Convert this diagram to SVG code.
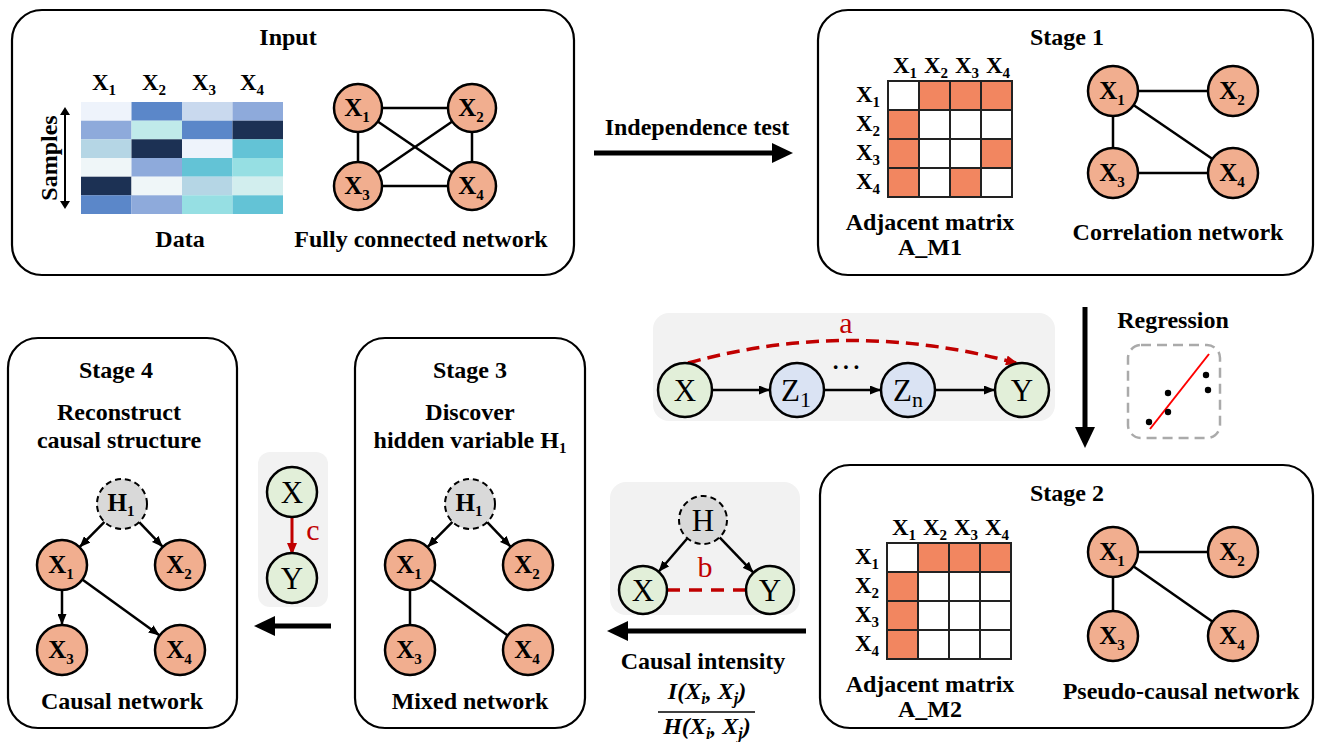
<svg xmlns="http://www.w3.org/2000/svg" width="1325" height="742" viewBox="0 0 1325 742">
  <style>
    .panel { fill: #ffffff; stroke: #000000; stroke-width: 2.2; }
    .inset { fill: #f2f2f2; stroke: none; }
    .title { font-family: "Liberation Serif", "Times New Roman", serif; font-weight: bold; font-size: 24px; fill: #000; text-anchor: middle; }
    .lbl { font-family: "Liberation Serif", "Times New Roman", serif; font-weight: bold; font-size: 24px; fill: #000; text-anchor: middle; }
    .hdr { font-family: "Liberation Serif", "Times New Roman", serif; font-weight: bold; font-size: 23px; fill: #000; text-anchor: middle; }
    .nd { font-family: "Liberation Serif", "Times New Roman", serif; font-weight: bold; font-size: 25px; fill: #000; text-anchor: middle; }
    .sub { font-size: 15px; }
    .node { fill: #f1ae8f; stroke: #000; stroke-width: 2.5; }
    .hid { fill: #d9d9d9; stroke: #000; stroke-width: 2; stroke-dasharray: 6,4; }
    .grn { fill: #e2efd9; stroke: #000; stroke-width: 2.5; }
    .blu { fill: #dae3f3; stroke: #000; stroke-width: 2.5; }
    .edge { stroke: #000; stroke-width: 2.5; fill: none; }
    .arr { stroke: #000; stroke-width: 2.5; fill: none; marker-end: url(#ah); }
    .big { stroke: #000; stroke-width: 5; fill: none; }
    .math { font-family: "Liberation Serif", "DejaVu Serif", serif; font-size: 31px; fill: #000; text-anchor: middle; }
    .red { font-family: "Liberation Serif", "DejaVu Serif", serif; font-size: 30px; fill: #c00000; text-anchor: middle; }
    .frac { font-family: "Liberation Serif", "Times New Roman", serif; font-weight: bold; font-style: italic; font-size: 24px; fill: #000; text-anchor: middle; }
    .cell { stroke: #222; stroke-width: 2; }
    .o { fill: #f28660; }
    .w { fill: #ffffff; }
  </style>
  <defs>
    <marker id="ah" markerUnits="userSpaceOnUse" markerWidth="11" markerHeight="9" refX="11" refY="4.5" orient="auto">
      <path d="M0,0 L11,4.5 L0,9 z" fill="#000"/>
    </marker>
    <marker id="ahr" markerUnits="userSpaceOnUse" markerWidth="12" markerHeight="10" refX="10" refY="5" orient="auto">
      <path d="M0,0 L12,5 L0,10 z" fill="#c00000"/>
    </marker>
  </defs>

  <rect width="1325" height="742" fill="#ffffff"/>

  <g id="input-panel">
    <rect class="panel" x="12" y="10" width="562" height="265" rx="30"/>
    <text class="title" x="288" y="45">Input</text>
    <g id="data-grid">
      <rect x="81" y="102" width="50.5" height="18.7" fill="#eef3fb"/>
      <rect x="131.5" y="102" width="50.5" height="18.7" fill="#5b87c9"/>
      <rect x="182" y="102" width="50.5" height="18.7" fill="#c9d9ee"/>
      <rect x="232.5" y="102" width="50.5" height="18.7" fill="#8eaadb"/>
      <rect x="81" y="120.7" width="50.5" height="18.7" fill="#8eaadb"/>
      <rect x="131.5" y="120.7" width="50.5" height="18.7" fill="#c0eaea"/>
      <rect x="182" y="120.7" width="50.5" height="18.7" fill="#5b87c9"/>
      <rect x="232.5" y="120.7" width="50.5" height="18.7" fill="#1c3154"/>
      <rect x="81" y="139.3" width="50.5" height="18.7" fill="#b5d6e5"/>
      <rect x="131.5" y="139.3" width="50.5" height="18.7" fill="#1c3154"/>
      <rect x="182" y="139.3" width="50.5" height="18.7" fill="#eef3fb"/>
      <rect x="232.5" y="139.3" width="50.5" height="18.7" fill="#63c3d6"/>
      <rect x="81" y="158" width="50.5" height="18.7" fill="#eff6f8"/>
      <rect x="131.5" y="158" width="50.5" height="18.7" fill="#8eaadb"/>
      <rect x="182" y="158" width="50.5" height="18.7" fill="#63c3d6"/>
      <rect x="232.5" y="158" width="50.5" height="18.7" fill="#96dfe3"/>
      <rect x="81" y="176.7" width="50.5" height="18.7" fill="#1c3154"/>
      <rect x="131.5" y="176.7" width="50.5" height="18.7" fill="#eff6f8"/>
      <rect x="182" y="176.7" width="50.5" height="18.7" fill="#b5d6e5"/>
      <rect x="232.5" y="176.7" width="50.5" height="18.7" fill="#d2eeee"/>
      <rect x="81" y="195.3" width="50.5" height="18.7" fill="#5b87c9"/>
      <rect x="131.5" y="195.3" width="50.5" height="18.7" fill="#8eaadb"/>
      <rect x="182" y="195.3" width="50.5" height="18.7" fill="#96dfe3"/>
      <rect x="232.5" y="195.3" width="50.5" height="18.7" fill="#63c3d6"/>
    </g>
    <text class="hdr" x="104" y="90">X<tspan class="sub" dy="5">1</tspan></text>
    <text class="hdr" x="154" y="90">X<tspan class="sub" dy="5">2</tspan></text>
    <text class="hdr" x="204" y="90">X<tspan class="sub" dy="5">3</tspan></text>
    <text class="hdr" x="252" y="90">X<tspan class="sub" dy="5">4</tspan></text>
    <line x1="65" y1="114" x2="65" y2="202" stroke="#000" stroke-width="2"/>
    <path d="M60,115 L65,107 L70,115 z M60,201 L65,209 L70,201 z" fill="#000"/>
    <text class="title" x="0" y="0" font-size="22" transform="translate(57,158) rotate(-90)">Samples</text>
    <text class="lbl" x="180" y="247">Data</text>
    <line class="edge" x1="358" y1="108" x2="472" y2="108"/>
    <line class="edge" x1="358" y1="108" x2="358" y2="186"/>
    <line class="edge" x1="472" y1="108" x2="472" y2="186"/>
    <line class="edge" x1="358" y1="186" x2="472" y2="186"/>
    <line class="edge" x1="358" y1="108" x2="472" y2="186"/>
    <line class="edge" x1="472" y1="108" x2="358" y2="186"/>
    <circle class="node" cx="358" cy="108" r="24"/>
    <circle class="node" cx="472" cy="108" r="24"/>
    <circle class="node" cx="358" cy="186" r="24"/>
    <circle class="node" cx="472" cy="186" r="24"/>
    <text class="nd" x="357" y="116">X<tspan class="sub" dy="6">1</tspan></text>
    <text class="nd" x="471" y="116">X<tspan class="sub" dy="6">2</tspan></text>
    <text class="nd" x="357" y="194">X<tspan class="sub" dy="6">3</tspan></text>
    <text class="nd" x="471" y="194">X<tspan class="sub" dy="6">4</tspan></text>
    <text class="lbl" x="421" y="247">Fully connected network</text>
  </g>

  <g id="stage1-panel">
    <rect class="panel" x="818" y="10" width="495" height="265" rx="30"/>
    <text class="title" x="1067" y="45">Stage 1</text>
    <g id="matrix1">
      <rect class="cell w" x="888" y="81" width="31" height="29"/>
      <rect class="cell o" x="919" y="81" width="31" height="29"/>
      <rect class="cell o" x="950" y="81" width="31" height="29"/>
      <rect class="cell o" x="981" y="81" width="31" height="29"/>
      <rect class="cell o" x="888" y="110" width="31" height="29"/>
      <rect class="cell w" x="919" y="110" width="31" height="29"/>
      <rect class="cell w" x="950" y="110" width="31" height="29"/>
      <rect class="cell w" x="981" y="110" width="31" height="29"/>
      <rect class="cell o" x="888" y="139" width="31" height="29"/>
      <rect class="cell w" x="919" y="139" width="31" height="29"/>
      <rect class="cell w" x="950" y="139" width="31" height="29"/>
      <rect class="cell o" x="981" y="139" width="31" height="29"/>
      <rect class="cell o" x="888" y="168" width="31" height="29"/>
      <rect class="cell w" x="919" y="168" width="31" height="29"/>
      <rect class="cell o" x="950" y="168" width="31" height="29"/>
      <rect class="cell w" x="981" y="168" width="31" height="29"/>
    </g>
    <text class="hdr" x="905" y="73">X<tspan class="sub" dy="5">1</tspan></text>
    <text class="hdr" x="936" y="73">X<tspan class="sub" dy="5">2</tspan></text>
    <text class="hdr" x="967" y="73">X<tspan class="sub" dy="5">3</tspan></text>
    <text class="hdr" x="998" y="73">X<tspan class="sub" dy="5">4</tspan></text>
    <text class="hdr" x="868" y="102">X<tspan class="sub" dy="5">1</tspan></text>
    <text class="hdr" x="868" y="131">X<tspan class="sub" dy="5">2</tspan></text>
    <text class="hdr" x="868" y="160">X<tspan class="sub" dy="5">3</tspan></text>
    <text class="hdr" x="868" y="189">X<tspan class="sub" dy="5">4</tspan></text>
    <text class="lbl" x="930" y="230">Adjacent matrix</text>
    <text class="lbl" x="930" y="255">A_M1</text>
    <line class="edge" x1="1113" y1="91" x2="1233" y2="91"/>
    <line class="edge" x1="1113" y1="91" x2="1113" y2="173"/>
    <line class="edge" x1="1113" y1="91" x2="1233" y2="173"/>
    <line class="edge" x1="1113" y1="173" x2="1233" y2="173"/>
    <circle class="node" cx="1113" cy="91" r="25"/>
    <circle class="node" cx="1233" cy="91" r="25"/>
    <circle class="node" cx="1113" cy="173" r="25"/>
    <circle class="node" cx="1233" cy="173" r="25"/>
    <text class="nd" x="1112" y="99">X<tspan class="sub" dy="6">1</tspan></text>
    <text class="nd" x="1232" y="99">X<tspan class="sub" dy="6">2</tspan></text>
    <text class="nd" x="1112" y="181">X<tspan class="sub" dy="6">3</tspan></text>
    <text class="nd" x="1232" y="181">X<tspan class="sub" dy="6">4</tspan></text>
    <text class="lbl" x="1178" y="240">Correlation network</text>
  </g>

  <g id="stage2-panel">
    <rect class="panel" x="820" y="465" width="493" height="263" rx="30"/>
    <text class="title" x="1067" y="501">Stage 2</text>
    <g id="matrix2">
      <rect class="cell w" x="887" y="543" width="31" height="29"/>
      <rect class="cell o" x="918" y="543" width="31" height="29"/>
      <rect class="cell o" x="949" y="543" width="31" height="29"/>
      <rect class="cell o" x="980" y="543" width="31" height="29"/>
      <rect class="cell o" x="887" y="572" width="31" height="29"/>
      <rect class="cell w" x="918" y="572" width="31" height="29"/>
      <rect class="cell w" x="949" y="572" width="31" height="29"/>
      <rect class="cell w" x="980" y="572" width="31" height="29"/>
      <rect class="cell o" x="887" y="601" width="31" height="29"/>
      <rect class="cell w" x="918" y="601" width="31" height="29"/>
      <rect class="cell w" x="949" y="601" width="31" height="29"/>
      <rect class="cell w" x="980" y="601" width="31" height="29"/>
      <rect class="cell o" x="887" y="630" width="31" height="29"/>
      <rect class="cell w" x="918" y="630" width="31" height="29"/>
      <rect class="cell w" x="949" y="630" width="31" height="29"/>
      <rect class="cell w" x="980" y="630" width="31" height="29"/>
    </g>
    <text class="hdr" x="904" y="535">X<tspan class="sub" dy="5">1</tspan></text>
    <text class="hdr" x="935" y="535">X<tspan class="sub" dy="5">2</tspan></text>
    <text class="hdr" x="966" y="535">X<tspan class="sub" dy="5">3</tspan></text>
    <text class="hdr" x="997" y="535">X<tspan class="sub" dy="5">4</tspan></text>
    <text class="hdr" x="867" y="564">X<tspan class="sub" dy="5">1</tspan></text>
    <text class="hdr" x="867" y="593">X<tspan class="sub" dy="5">2</tspan></text>
    <text class="hdr" x="867" y="622">X<tspan class="sub" dy="5">3</tspan></text>
    <text class="hdr" x="867" y="651">X<tspan class="sub" dy="5">4</tspan></text>
    <text class="lbl" x="930" y="692">Adjacent matrix</text>
    <text class="lbl" x="930" y="717">A_M2</text>
    <line class="edge" x1="1113" y1="552" x2="1233" y2="552"/>
    <line class="edge" x1="1113" y1="552" x2="1113" y2="636"/>
    <line class="edge" x1="1113" y1="552" x2="1233" y2="636"/>
    <circle class="node" cx="1113" cy="552" r="25"/>
    <circle class="node" cx="1233" cy="552" r="25"/>
    <circle class="node" cx="1113" cy="636" r="25"/>
    <circle class="node" cx="1233" cy="636" r="25"/>
    <text class="nd" x="1112" y="560">X<tspan class="sub" dy="6">1</tspan></text>
    <text class="nd" x="1232" y="560">X<tspan class="sub" dy="6">2</tspan></text>
    <text class="nd" x="1112" y="644">X<tspan class="sub" dy="6">3</tspan></text>
    <text class="nd" x="1232" y="644">X<tspan class="sub" dy="6">4</tspan></text>
    <text class="lbl" x="1181" y="699">Pseudo-causal network</text>
  </g>

  <g id="stage3-panel">
    <rect class="panel" x="355" y="338" width="230" height="390" rx="30"/>
    <text class="title" x="470" y="378">Stage 3</text>
    <text class="lbl" x="470" y="420">Discover</text>
    <text class="lbl" x="470" y="448">hidden variable H<tspan class="sub" dy="5">1</tspan></text>
    <line class="arr" x1="452.5" y1="521.8" x2="427.5" y2="547.2"/>
    <line class="arr" x1="487.2" y1="522.1" x2="510.8" y2="546.9"/>
    <line class="edge" x1="410" y1="590" x2="410" y2="625"/>
    <line class="edge" x1="430.3" y1="579.6" x2="507.7" y2="635.4"/>
    <circle class="hid" cx="470" cy="504" r="25"/>
    <circle class="node" cx="410" cy="565" r="25"/>
    <circle class="node" cx="528" cy="565" r="25"/>
    <circle class="node" cx="410" cy="650" r="25"/>
    <circle class="node" cx="528" cy="650" r="25"/>
    <text class="nd" x="469" y="511" font-size="22">H<tspan class="sub" dy="5">1</tspan></text>
    <text class="nd" x="409" y="573">X<tspan class="sub" dy="6">1</tspan></text>
    <text class="nd" x="527" y="573">X<tspan class="sub" dy="6">2</tspan></text>
    <text class="nd" x="409" y="658">X<tspan class="sub" dy="6">3</tspan></text>
    <text class="nd" x="527" y="658">X<tspan class="sub" dy="6">4</tspan></text>
    <text class="lbl" x="470" y="709">Mixed network</text>
  </g>

  <g id="stage4-panel">
    <rect class="panel" x="8" y="338" width="229" height="390" rx="30"/>
    <text class="title" x="116" y="378">Stage 4</text>
    <text class="lbl" x="119" y="420">Reconstruct</text>
    <text class="lbl" x="119" y="448">causal structure</text>
    <line class="arr" x1="104.5" y1="521.8" x2="79.5" y2="547.2"/>
    <line class="arr" x1="139.2" y1="522.1" x2="162.8" y2="546.9"/>
    <line class="arr" x1="62" y1="590" x2="62" y2="625"/>
    <line class="arr" x1="82.3" y1="579.6" x2="159.7" y2="635.4"/>
    <circle class="hid" cx="122" cy="504" r="25"/>
    <circle class="node" cx="62" cy="565" r="25"/>
    <circle class="node" cx="180" cy="565" r="25"/>
    <circle class="node" cx="62" cy="650" r="25"/>
    <circle class="node" cx="180" cy="650" r="25"/>
    <text class="nd" x="121" y="511" font-size="22">H<tspan class="sub" dy="5">1</tspan></text>
    <text class="nd" x="61" y="573">X<tspan class="sub" dy="6">1</tspan></text>
    <text class="nd" x="179" y="573">X<tspan class="sub" dy="6">2</tspan></text>
    <text class="nd" x="61" y="658">X<tspan class="sub" dy="6">3</tspan></text>
    <text class="nd" x="179" y="658">X<tspan class="sub" dy="6">4</tspan></text>
    <text class="lbl" x="122" y="709">Causal network</text>
  </g>

  <!-- Mediated path X -> Z1 ... Zn -> Y with direct dashed link a -->
  <g id="inset-a">
    <rect class="inset" x="653" y="313" width="402" height="108" rx="16"/>
    <path d="M688,363 Q850,318 1016,363" fill="none" stroke="#c00000" stroke-width="3.5" stroke-dasharray="13,7" marker-end="url(#ahr)"/>
    <text class="red" x="846" y="333">a</text>
    <line class="arr" x1="712" y1="390" x2="770" y2="390"/>
    <line class="arr" x1="824" y1="390" x2="881" y2="390"/>
    <line class="arr" x1="935" y1="390" x2="995" y2="390"/>
    <circle class="grn" cx="685" cy="390" r="27"/>
    <circle class="blu" cx="797" cy="390" r="27"/>
    <circle class="blu" cx="908" cy="390" r="27"/>
    <circle class="grn" cx="1022" cy="390" r="27"/>
    <text class="math" x="685" y="401">X</text>
    <text class="math" x="796" y="401">Z<tspan font-size="22" dy="6">1</tspan></text>
    <text class="math" x="908" y="401">Z<tspan font-size="22" dy="6">n</tspan></text>
    <text class="math" x="1022" y="401">Y</text>
    <text class="math" x="846" y="378" font-size="22">···</text>
  </g>

  <!-- Regression icon -->
  <g id="regression">
    <text class="lbl" x="1173" y="328">Regression</text>
    <rect x="1128" y="345" width="92" height="93" rx="13" fill="none" stroke="#aaaaaa" stroke-width="2.5" stroke-dasharray="10,6"/>
    <line x1="1150" y1="429" x2="1209" y2="354" stroke="#ff0000" stroke-width="2"/>
    <circle cx="1149" cy="422" r="3.2" fill="#000"/>
    <circle cx="1168" cy="393" r="3.2" fill="#000"/>
    <circle cx="1168" cy="412" r="3.2" fill="#000"/>
    <circle cx="1206" cy="375" r="3.2" fill="#000"/>
    <circle cx="1208" cy="390" r="3.2" fill="#000"/>
  </g>

  <!-- Hidden confounder H with spurious link b -->
  <g id="inset-b">
    <rect class="inset" x="610" y="482" width="190" height="133" rx="16"/>
    <line class="arr" x1="687.4" y1="538.2" x2="658.6" y2="571.8" stroke-width="3"/>
    <line class="arr" x1="719.6" y1="537.3" x2="753.4" y2="572.7" stroke-width="3"/>
    <line x1="667" y1="590" x2="746" y2="590" stroke="#c00000" stroke-width="3.5" stroke-dasharray="13,9"/>
    <text class="red" x="705" y="577">b</text>
    <circle class="hid" cx="703" cy="520" r="24"/>
    <circle class="grn" cx="643" cy="590" r="24"/>
    <circle class="grn" cx="770" cy="590" r="24"/>
    <text class="math" x="703" y="531">H</text>
    <text class="math" x="643" y="601">X</text>
    <text class="math" x="770" y="601">Y</text>
  </g>

  <!-- Direct causal link c -->
  <g id="inset-c">
    <rect class="inset" x="258" y="452" width="70" height="155" rx="12"/>
    <line x1="292" y1="517" x2="292" y2="553" stroke="#c00000" stroke-width="3" marker-end="url(#ahr)"/>
    <text class="red" x="313" y="540">c</text>
    <circle class="grn" cx="292" cy="492" r="25"/>
    <circle class="grn" cx="292" cy="578" r="25"/>
    <text class="math" x="292" y="503">X</text>
    <text class="math" x="292" y="589">Y</text>
  </g>

  <!-- Pipeline connectors -->
  <g id="connectors">
    <line class="big" x1="594" y1="153" x2="775" y2="153"/>
    <polygon points="772,143 793,153 772,163" fill="#000"/>
    <text class="lbl" x="697" y="135">Independence test</text>

    <line class="big" x1="1085" y1="307" x2="1085" y2="430"/>
    <polygon points="1075,427 1085,448 1095,427" fill="#000"/>

    <line class="big" x1="806" y1="631" x2="625" y2="631"/>
    <polygon points="628,621 607,631 628,641" fill="#000"/>
    <text class="lbl" x="703" y="669">Causal intensity</text>
    <text class="frac" x="707" y="699">I(X<tspan font-size="16" dy="5">i</tspan><tspan dy="-5">, X</tspan><tspan font-size="16" dy="5">j</tspan><tspan dy="-5">)</tspan></text>
    <line x1="658" y1="712" x2="755" y2="712" stroke="#000" stroke-width="1.5"/>
    <text class="frac" x="707" y="734">H(X<tspan font-size="16" dy="5">i</tspan><tspan dy="-5">, X</tspan><tspan font-size="16" dy="5">j</tspan><tspan dy="-5">)</tspan></text>

    <line class="big" x1="331" y1="626" x2="272" y2="626"/>
    <polygon points="275,616 254,626 275,636" fill="#000"/>
  </g>
</svg>
